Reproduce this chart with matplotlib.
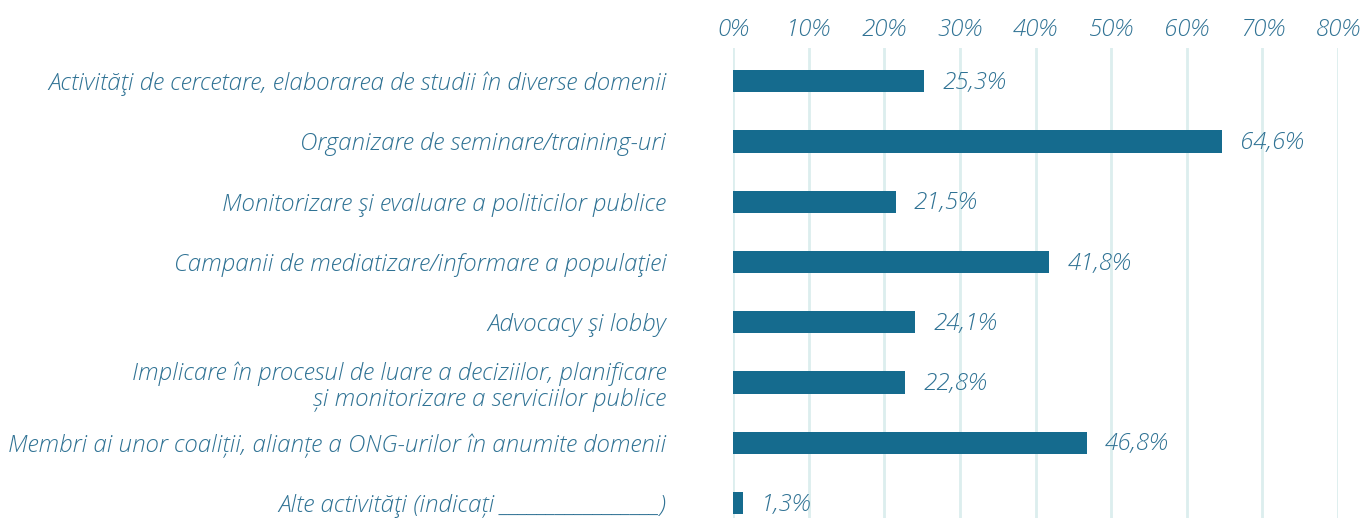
import matplotlib
matplotlib.use("Agg")
from matplotlib import pyplot as plt

# Data
categories = [
    "Activităţi de cercetare, elaborarea de studii în diverse domenii",
    "Organizare de seminare/training-uri",
    "Monitorizare şi evaluare a politicilor publice",
    "Campanii de mediatizare/informare a populaţiei",
    "Advocacy şi lobby",
    "Implicare în procesul de luare a deciziilor, planificare\nși monitorizare a serviciilor publice",
    "Membri ai unor coaliții, alianțe a ONG-urilor în anumite domenii",
    "Alte activităţi (indicați _________________)",
]
values = [25.3, 64.6, 21.5, 41.8, 24.1, 22.8, 46.8, 1.3]
ticks = [0, 10, 20, 30, 40, 50, 60, 70, 80]

barColor = "#156b8e"
textColor = "#2f7294"
gridColor = "#dceeee"

plt.rcParams["font.family"] = ["Open Sans", "DejaVu Sans"]
fs = 17.4

W, H = 1363, 518
fig = plt.figure(figsize=(W / 100, H / 100), dpi=100)
# axes spans from 0% (x=733) to 80% (x=1338), gridlines from y=48 to the bottom
ax = fig.add_axes([733 / W, 0, (1338 - 733) / W, (518 - 48) / H])

pos = list(range(len(categories)))
ax.barh(pos, values, height=0.37, color=barColor, zorder=3)
ax.set_xlim(0, 80)
ax.set_ylim(7.25, -0.55)

for p, v in zip(pos, values):
    ax.text(v + 2.4, p + 0.03, ("%.1f%%" % v).replace(".", ","), va="center", ha="left",
            fontsize=fs, fontstyle="italic", fontweight="light", color=textColor)

ax.set_yticks(pos)
ax.set_yticklabels(categories, fontsize=fs, fontstyle="italic", fontweight="light",
                   color=textColor, linespacing=1.15)
ax.tick_params(axis="y", length=0, pad=48)

ax.xaxis.tick_top()
ax.set_xticks(ticks)
ax.set_xticklabels(["%d%%" % t for t in ticks], fontsize=fs, fontstyle="italic",
                   fontweight="light", color=textColor)
ax.tick_params(axis="x", length=0, pad=4)

ax.grid(axis="x", color=gridColor, linewidth=2, zorder=0)
ax.grid(axis="y", visible=False)
for s in ax.spines.values():
    s.set_visible(False)

fig.savefig("out.png", dpi=100)
